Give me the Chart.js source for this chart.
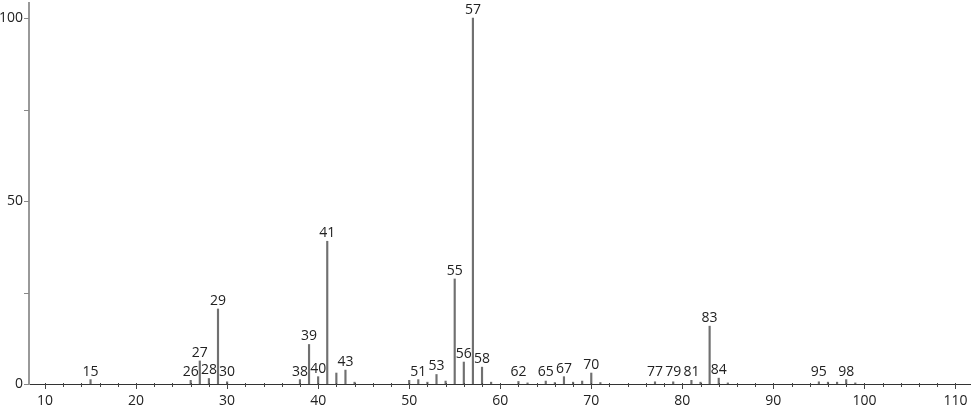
<!DOCTYPE html>
<html>
<head>
<meta charset="utf-8">
<script src="https://cdn.jsdelivr.net/npm/chart.js@4/dist/chart.umd.min.js"></script>
<style>
  html, body { margin: 0; padding: 0; background: #fff; }
  #wrap { width: 974px; height: 406px; }
</style>
</head>
<body>
<div id="wrap"><canvas id="canvas" width="974" height="406"></canvas></div>
<script>
// m/z values and relative intensities
let mz = [15, 26, 27, 28, 29, 30, 38, 39, 40, 41, 42, 43, 44, 50, 51, 52, 53, 54, 55, 56, 57, 58, 59,
          62, 63, 65, 66, 67, 68, 69, 70, 71, 77, 79, 81, 82, 83, 84, 85, 95, 96, 97, 98, 99];
let intensity = [1.2, 1, 6.3, 1.5, 20.5, 0.6, 1.2, 10.8, 2, 39, 3, 3.8, 0.5, 1, 1.2, 0.5, 2.6, 0.8, 28.7, 6, 100, 4.6, 0.5,
                 0.7, 0.3, 0.8, 0.4, 2, 0.5, 0.8, 3, 0.4, 0.6, 0.6, 1, 0.5, 15.8, 1.6, 0.3, 0.6, 0.5, 0.5, 1.2, 0.3];
let labelled = [15, 26, 27, 28, 29, 30, 38, 39, 40, 41, 43, 51, 53, 55, 56, 57, 58, 62, 65, 67, 70, 77, 79, 81, 83, 84, 95, 98];
let xTicks = [10, 20, 30, 40, 50, 60, 70, 80, 90, 100, 110];
let yTicks = [0, 50, 100];

let points = mz.map((m, i) => ({x: m, y: intensity[i]}));
let fontName = "'Open Sans', 'DejaVu Sans', sans-serif";

// peak labels, y labels and axis tick marks
let peakLabels = {
    id: 'peakLabels',
    afterDatasetsDraw(chart) {
        let ctx = chart.ctx;
        let xs = chart.scales.x, ys = chart.scales.y;
        ctx.save();
        ctx.fillStyle = '#222';
        ctx.font = '14px ' + fontName;
        ctx.textAlign = 'center';
        ctx.textBaseline = 'bottom';
        labelled.forEach(m => {
            let v = intensity[mz.indexOf(m)];
            let top = Math.min(ys.getPixelForValue(Math.max(v, 1)), ys.getPixelForValue(1.2));
            ctx.fillText(String(m), xs.getPixelForValue(m), top - 1);
        });
        ctx.textAlign = 'right';
        ctx.textBaseline = 'middle';
        yTicks.forEach(v => {
            ctx.fillText(String(v), xs.left - 6, ys.getPixelForValue(v));
        });
        ctx.restore();
    },
    afterDraw(chart) {
        let ctx = chart.ctx;
        let xs = chart.scales.x, ys = chart.scales.y;
        let base = ys.getPixelForValue(0);
        ctx.save();
        ctx.strokeStyle = '#444';
        ctx.lineWidth = 1;
        for (let v = 10; v <= 110; v += 2) {
            let px = Math.round(xs.getPixelForValue(v)) + 0.5;
            ctx.beginPath();
            ctx.moveTo(px, base - 1);
            ctx.lineTo(px, base + (v % 10 === 0 ? 5 : 3));
            ctx.stroke();
        }
        ctx.strokeStyle = '#888';
        for (let v = 0; v <= 100; v += 25) {
            let py = Math.round(ys.getPixelForValue(v)) + 0.5;
            ctx.beginPath();
            ctx.moveTo(xs.left - 5, py);
            ctx.lineTo(xs.left, py);
            ctx.stroke();
        }
        ctx.restore();
    }
};

let spectrumChart = new Chart(document.getElementById('canvas'), {
    type: 'bar',
    data: {
        datasets: [{
            data: points,
            backgroundColor: '#707070',
            borderWidth: 0,
            barThickness: 1.5
        }]
    },
    options: {
        responsive: false,
        animation: false,
        layout: {padding: {top: 3, right: 4, left: 0, bottom: 0}},
        plugins: {legend: {display: false}, tooltip: {enabled: false}},
        scales: {
            x: {
                type: 'linear',
                offset: false,
                min: 8.24,
                max: 111.6,
                afterFit(s) { s.height = 22; },
                afterBuildTicks(s) { s.ticks = xTicks.map(v => ({value: v})); },
                ticks: {
                    color: '#222',
                    font: {family: fontName, size: 14},
                    padding: 1,
                    maxRotation: 0,
                    autoSkip: false
                },
                grid: {display: false},
                border: {display: true, color: '#333', width: 1}
            },
            y: {
                min: 0,
                max: 104.1,
                afterFit(s) { s.width = 29; },
                ticks: {display: false},
                grid: {display: false},
                border: {display: true, color: '#999', width: 2}
            }
        }
    },
    plugins: [peakLabels]
});
</script>
</body>
</html>
